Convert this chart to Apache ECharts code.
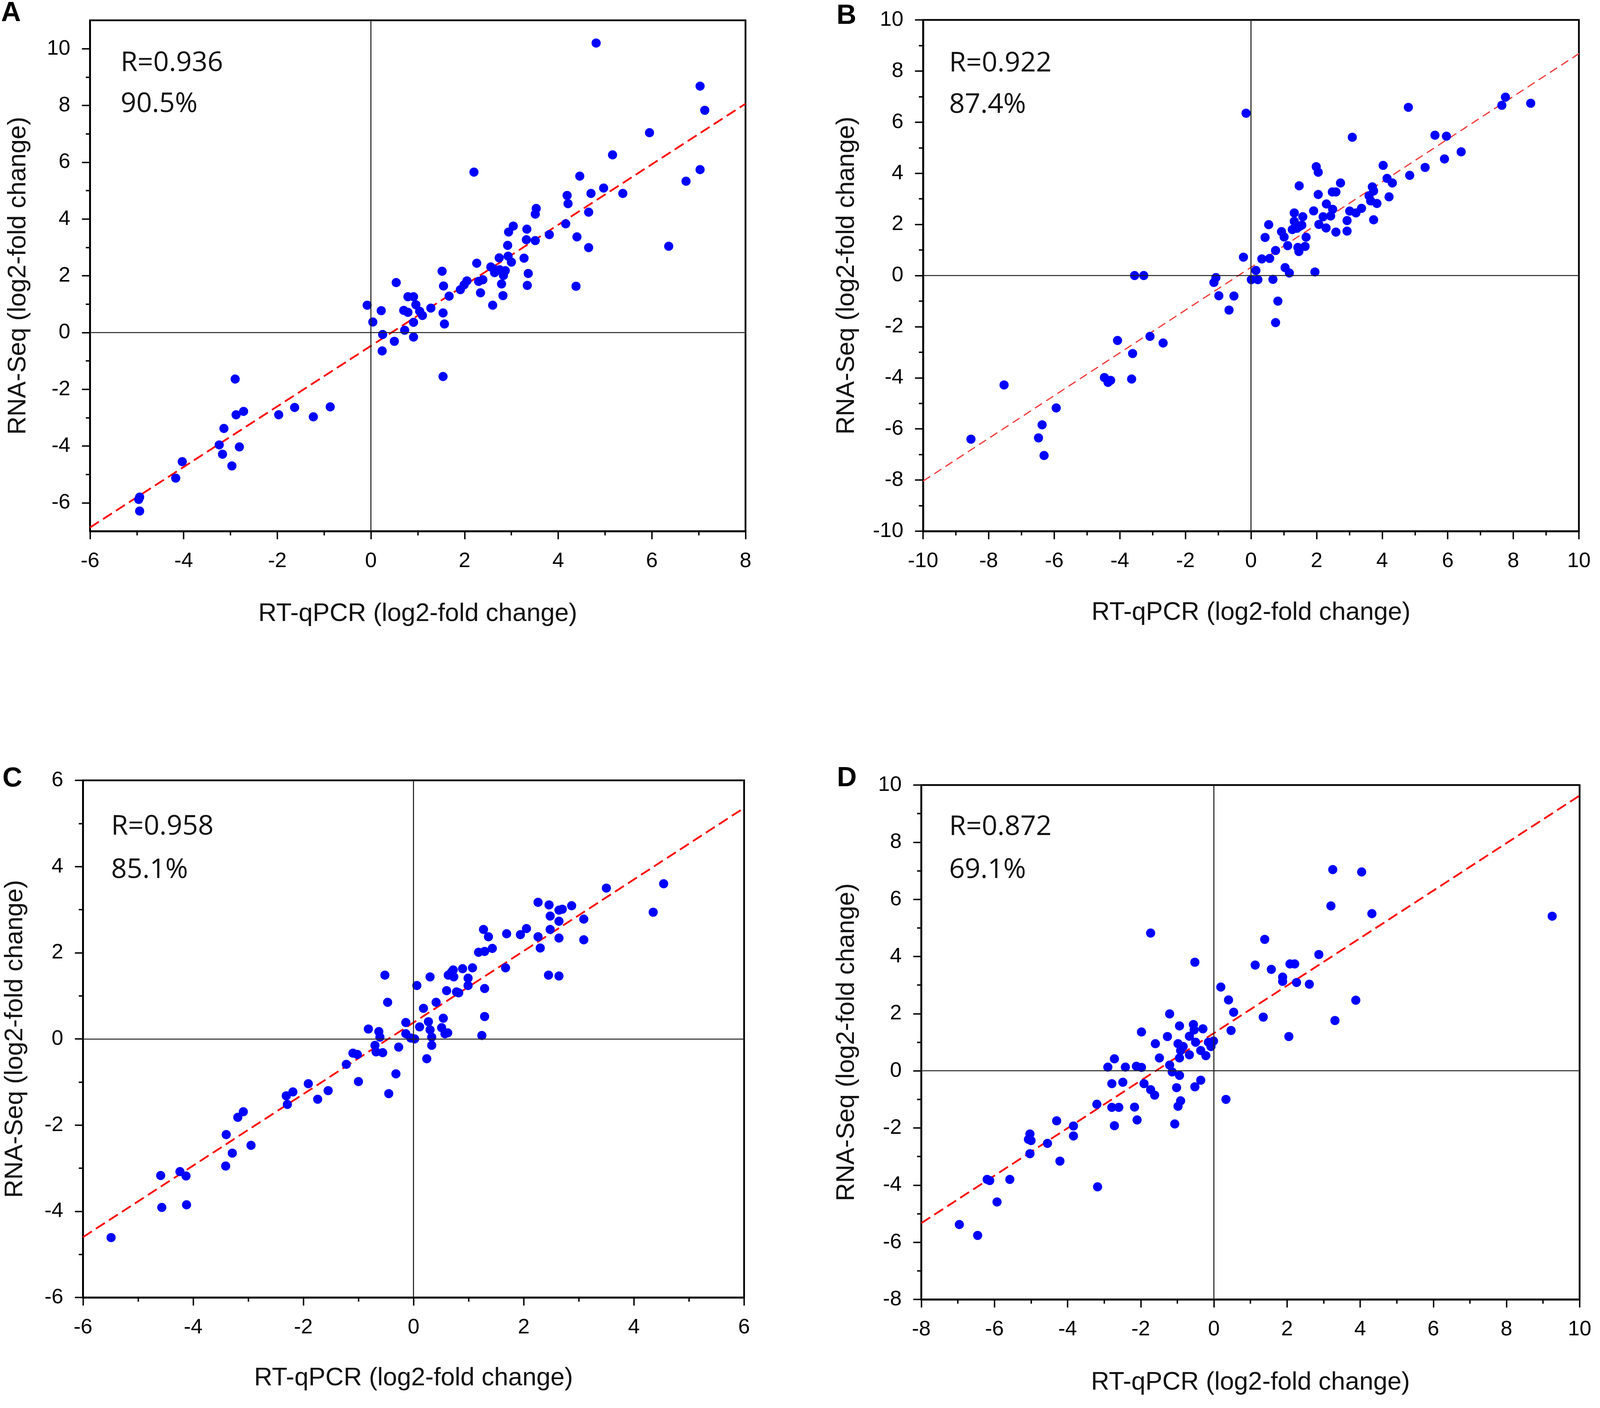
<!DOCTYPE html>
<html>
<head>
<meta charset="utf-8">
<title>RT-qPCR vs RNA-Seq</title>
<script src="https://cdn.jsdelivr.net/npm/echarts@6.0.0/dist/echarts.min.js"></script>
<style>
  html, body { margin: 0; padding: 0; background: #fff; overflow: hidden; }
  #main { width: 100vw; height: 100vh; }
</style>
</head>
<body>
<div id="main"></div>
<script>
// points: [RT-qPCR, RNA-Seq]
var ptsA = [
    [4.81, 10.2], [7.03, 8.68], [7.13, 7.83], [5.95, 7.04], [5.16, 6.26], [2.20, 5.65], [4.46, 5.51],
    [7.03, 5.74], [6.73, 5.33], [4.19, 4.83], [4.70, 4.90], [4.97, 5.09], [5.38, 4.90], [6.36, 3.04],
    [4.21, 4.54], [3.53, 4.37], [3.51, 4.17], [4.65, 4.24], [3.04, 3.75], [2.94, 3.54], [3.33, 3.64],
    [3.32, 3.27], [3.51, 3.24], [3.81, 3.45], [4.16, 3.83], [4.40, 3.37], [4.65, 2.99], [2.92, 3.07],
    [2.74, 2.63], [2.93, 2.69], [3.00, 2.48], [3.27, 2.62], [2.26, 2.44], [2.56, 2.31], [2.62, 2.24],
    [2.64, 2.11], [2.75, 2.21], [2.87, 2.18], [2.83, 2.01], [2.79, 1.71], [3.36, 2.08], [3.34, 1.66],
    [2.82, 1.30], [2.60, 0.96], [2.34, 1.40], [2.30, 1.80], [2.39, 1.86], [2.05, 1.82], [1.99, 1.68],
    [1.91, 1.51], [1.67, 1.28], [1.52, 2.16], [1.55, 1.64], [1.54, 0.69], [1.57, 0.30], [1.54, -1.55],
    [1.28, 0.86], [1.10, 0.60], [1.04, 0.75], [0.96, 0.98], [0.91, 1.26], [0.79, 1.26], [0.54, 1.76],
    [0.70, 0.78], [0.79, 0.71], [0.91, 0.36], [0.91, -0.16], [0.72, 0.08], [0.50, -0.31], [0.25, -0.07],
    [0.24, -0.65], [0.22, 0.77], [0.04, 0.37], [-0.08, 0.96], [4.38, 1.63],
    [-2.90, -1.64], [-2.88, -2.90], [-2.72, -2.78], [-3.14, -3.38], [-3.24, -3.96], [-3.17, -4.29],
    [-2.81, -4.03], [-2.97, -4.70], [-4.03, -4.55], [-4.17, -5.13], [-4.94, -5.80], [-4.96, -5.88],
    [-4.94, -6.29], [-1.97, -2.90], [-1.63, -2.64], [-1.23, -2.97], [-0.87, -2.62]
];
var ptsB = [
    [-0.15, 6.35], [4.80, 6.58], [7.76, 6.98], [7.65, 6.66], [8.53, 6.74],
    [3.09, 5.41], [5.61, 5.49], [5.96, 5.45], [6.41, 4.84], [5.90, 4.56], [5.31, 4.23], [4.84, 3.92],
    [4.03, 4.31], [4.15, 3.80], [4.31, 3.62], [4.21, 3.08], [3.70, 3.47], [3.74, 3.31], [3.60, 3.12],
    [3.65, 2.92], [3.84, 2.82], [3.74, 2.18], [3.37, 2.63], [3.20, 2.45], [3.01, 2.52], [2.93, 2.15],
    [2.93, 1.74], [2.73, 3.62], [2.59, 3.27], [2.48, 3.27], [1.99, 4.26], [2.05, 4.04], [1.47, 3.51],
    [2.05, 3.17], [2.30, 2.80], [2.49, 2.59], [2.43, 2.33], [2.20, 2.30], [1.91, 2.53], [2.07, 2.00],
    [2.29, 1.86], [2.59, 1.70], [1.95, 0.14], [1.32, 2.45], [1.32, 2.12], [1.26, 1.80], [1.58, 2.30],
    [1.48, 1.92], [1.55, 1.97], [1.40, 1.85], [1.68, 1.50], [1.65, 1.14], [1.46, 0.94], [1.43, 1.10],
    [1.12, 1.17], [0.93, 1.72], [1.01, 1.51], [0.54, 1.99], [0.43, 1.49], [0.75, 0.98], [0.57, 0.67],
    [0.33, 0.65], [-0.23, 0.72], [0.15, 0.20], [0.01, -0.16], [0.21, -0.16], [0.67, -0.15], [1.04, 0.31],
    [1.17, 0.10], [0.82, -1.00], [0.75, -1.84], [-0.52, -0.80], [-0.67, -1.35], [-0.98, -0.79],
    [-1.07, -0.08], [-1.13, -0.27],
    [-3.55, 0.00], [-3.27, 0.00], [-4.07, -2.54], [-3.08, -2.38], [-2.68, -2.64], [-3.61, -3.05],
    [-3.64, -4.05], [-4.47, -3.99], [-4.36, -4.18], [-4.28, -4.10], [-7.53, -4.28], [-5.94, -5.18],
    [-6.37, -5.84], [-6.48, -6.35], [-6.31, -7.04], [-8.54, -6.40]
];
var ptsC = [
    [-5.49, -4.61], [-4.59, -3.17], [-4.57, -3.91], [-4.24, -3.08], [-4.13, -3.18], [-4.12, -3.85],
    [-3.41, -2.95], [-3.40, -2.22], [-3.29, -2.65], [-3.19, -1.82], [-3.09, -1.69], [-2.95, -2.47],
    [-2.31, -1.32], [-2.29, -1.52], [-2.19, -1.23], [-1.91, -1.04], [-1.74, -1.40], [-1.55, -1.20],
    [-1.22, -0.59], [-1.10, -0.33], [-1.02, -0.36], [-1.00, -0.99], [-0.82, 0.23], [-0.70, -0.15],
    [-0.68, -0.30], [-0.63, 0.17], [-0.61, 0.04], [-0.56, -0.32], [-0.52, 1.48], [-0.47, 0.85],
    [-0.45, -1.27], [-0.32, -0.81], [-0.27, -0.19], [-0.14, 0.38], [-0.14, 0.12], [-0.05, 0.02],
    [0.02, 0.00], [0.06, 1.24], [0.11, 0.28], [0.18, 0.71], [0.24, -0.46], [0.27, 0.40], [0.30, 1.44],
    [0.30, 0.21], [0.33, -0.15], [0.33, 0.04], [0.41, 0.85], [0.51, 0.26], [0.54, 0.48], [0.57, 0.12],
    [0.62, 0.14], [0.60, 1.12], [0.63, 1.48], [0.69, 1.55], [0.72, 1.60], [0.73, 1.44], [0.78, 1.09],
    [0.89, 1.63], [0.82, 1.07], [0.99, 1.41], [0.99, 1.24], [1.07, 1.65], [1.18, 2.01], [1.29, 2.03],
    [1.27, 2.54], [1.36, 2.37], [1.43, 2.10], [1.29, 1.17], [1.29, 0.52], [1.24, 0.08], [1.69, 2.44],
    [1.67, 1.65], [1.94, 2.42], [2.05, 2.56], [2.26, 3.17], [2.26, 2.37], [2.30, 2.11], [2.46, 3.11],
    [2.48, 2.85], [2.48, 2.54], [2.45, 1.48], [2.64, 2.99], [2.70, 3.01], [2.64, 2.73], [2.64, 2.34],
    [2.64, 1.46], [2.87, 3.09], [3.09, 2.78], [3.09, 2.30], [3.50, 3.50], [4.35, 2.94], [4.54, 3.60]
];
var ptsD = [
    [3.25, 7.04], [4.04, 6.96], [3.20, 5.77], [4.32, 5.50], [9.25, 5.41], [-1.73, 4.82], [1.39, 4.60],
    [-0.52, 3.80], [2.87, 4.07], [1.13, 3.70], [1.57, 3.55], [2.08, 3.74], [2.21, 3.74], [1.88, 3.28],
    [1.88, 3.13], [2.26, 3.09], [2.61, 3.03], [0.19, 2.93], [0.40, 2.48], [0.54, 2.05], [3.88, 2.47],
    [3.31, 1.76], [1.35, 1.88], [2.05, 1.20], [0.47, 1.41], [-1.21, 1.99], [-1.98, 1.36], [-1.27, 1.20],
    [-0.94, 1.57], [-0.56, 1.62], [-0.54, 1.43], [-0.30, 1.47], [-0.67, 1.21], [-1.60, 0.95],
    [-0.98, 0.95], [-0.84, 0.85], [-0.50, 1.00], [-0.15, 1.00], [-0.01, 1.04], [-0.08, 0.85],
    [-0.36, 0.71], [-0.67, 0.56], [-0.91, 0.71], [-0.94, 0.45], [-0.22, 0.53], [-1.49, 0.45],
    [-2.72, 0.42], [-2.90, 0.13], [-2.42, 0.13], [-2.12, 0.16], [-1.98, 0.12], [-1.21, 0.20],
    [-1.14, -0.04], [-0.94, -0.16], [-2.79, -0.45], [-2.49, -0.40], [-1.91, -0.45], [-1.73, -0.66],
    [-1.62, -0.85], [-1.02, -0.59], [-0.52, -0.56], [-0.36, -0.33], [0.33, -1.00], [-3.20, -1.17],
    [-2.79, -1.28], [-2.60, -1.28], [-2.17, -1.27], [-2.10, -1.72], [-2.72, -1.92], [-0.91, -1.05],
    [-0.98, -1.24], [-1.07, -1.86], [-4.30, -1.75], [-3.84, -1.93], [-3.84, -2.28], [-5.03, -2.21],
    [-5.07, -2.40], [-5.00, -2.44], [-4.55, -2.54], [-5.03, -2.90], [-4.21, -3.16], [-3.18, -4.06],
    [-6.20, -3.80], [-6.13, -3.84], [-5.58, -3.80], [-5.93, -4.59], [-6.96, -5.38], [-6.46, -5.76]
];

// end points of the dashed fit lines
var fitA = [[-6, -6.87], [8, 8.06]];
var fitB = [[-10, -8.04], [10, 8.68]];
var fitC = [[-6, -4.60], [6, 5.36]];
var fitD = [[-8, -5.33], [10, 9.63]];

var statR = ['R=0.936', 'R=0.922', 'R=0.958', 'R=0.872'];
var statPct = ['90.5%', '87.4%', '85.1%', '69.1%'];
var panelNames = ['A', 'B', 'C', 'D'];

// panel A y axis runs -7..11, labels on the even values only
var ticksAy = [-6, -4, -2, 0, 2, 4, 6, 8, 10];
var minorAy = [-5, -3, -1, 1, 3, 5, 7, 9];

var xTitle = 'RT-qPCR (log2-fold change)';
var yTitle = 'RNA-Seq (log2-fold change)';

// layout was measured on a 4550x3605 page, scale it to whatever we get
var W = window.innerWidth || 4550;
var H = window.innerHeight || 3605;
var sx = W / 4550, sy = H / 3605, sf = Math.min(sx, sy);
function px(v) { return v * sx; }
function py(v) { return v * sy; }
function fs(v) { return v * sf; }

var myChart = echarts.init(document.getElementById('main'), null, {renderer: 'canvas', width: W, height: H});

function valueAxis(gridIndex, min, max, name, nameGap, isY) {
    return {
        type: 'value',
        gridIndex: gridIndex,
        min: min,
        max: max,
        interval: 2,
        position: isY ? 'left' : 'bottom',
        name: name,
        nameLocation: 'middle',
        nameGap: isY ? px(nameGap) : py(nameGap),
        nameRotate: isY ? 90 : 0,
        nameTextStyle: {fontSize: fs(72), color: '#111', fontFamily: 'Liberation Sans, Arial, sans-serif'},
        axisLine: {show: true, onZero: false, lineStyle: {color: '#000', width: fs(5)}},
        axisTick: {show: true, inside: false, length: fs(23), lineStyle: {color: '#000', width: fs(4)}},
        minorTick: {show: true, splitNumber: 2, length: fs(12), lineStyle: {color: '#000', width: fs(4)}},
        axisLabel: {
            fontSize: fs(60), color: '#000', margin: fs(56),
            fontFamily: 'Liberation Sans, Arial, sans-serif',
            showMinLabel: true, showMaxLabel: true
        },
        splitLine: {show: false},
        minorSplitLine: {show: false}
    };
}

var xAxes = [
    valueAxis(0, -6, 8, xTitle, 180, false),
    valueAxis(1, -10, 10, xTitle, 177, false),
    valueAxis(2, -6, 6, xTitle, 175, false),
    valueAxis(3, -8, 10, xTitle, 181, false)
];

var yA = valueAxis(0, -7, 11, yTitle, 168, true);
delete yA.interval;
yA.axisTick.customValues = ticksAy;
yA.axisLabel.customValues = ticksAy;
yA.minorTick = {show: false};

// second axis on the same grid only for the short odd ticks of panel A
var yAminor = {
    type: 'value', gridIndex: 0, min: -7, max: 11, position: 'left',
    axisLine: {show: false, onZero: false},
    axisLabel: {show: false},
    axisTick: {show: true, inside: false, length: fs(12), customValues: minorAy,
        lineStyle: {color: '#000', width: fs(4)}},
    splitLine: {show: false}
};

var yAxes = [
    yA,
    valueAxis(1, -10, 10, yTitle, 181, true),
    valueAxis(2, -6, 6, yTitle, 156, true),
    valueAxis(3, -8, 10, yTitle, 175, true),
    yAminor
];

var gridBoxes = [
    [256, 52, 1864, 1308],
    [2625, 51, 1865, 1309],
    [236, 1998, 1880, 1324],
    [2620, 2010, 1872, 1317]
];
var grids = gridBoxes.map(function (b) {
    return {
        left: px(b[0]), top: py(b[1]), width: px(b[2]), height: py(b[3]),
        show: true, borderColor: '#000', borderWidth: fs(5),
        backgroundColor: '#fff', containLabel: false
    };
});

var allPts = [ptsA, ptsB, ptsC, ptsD];
var allFits = [fitA, fitB, fitC, fitD];

var series = [];
allPts.forEach(function (pts, i) {
    series.push({
        type: 'line',
        xAxisIndex: i,
        yAxisIndex: i,
        data: allFits[i],
        symbol: 'none',
        z: 2,
        lineStyle: {
            color: i === 1 ? '#f23b3b' : '#ff0000',
            width: fs(i === 1 ? 3.5 : 5),
            type: i === 1 ? [fs(24), fs(14)] : [fs(30), fs(14)]
        },
        markLine: {
            silent: true,
            symbol: ['none', 'none'],
            label: {show: false},
            lineStyle: {type: 'solid', color: '#222', width: fs(3)},
            data: [{xAxis: 0}, {yAxis: 0}]
        }
    });
    series.push({
        type: 'scatter',
        xAxisIndex: i,
        yAxisIndex: i,
        data: pts,
        symbol: 'circle',
        symbolSize: fs(26),
        z: 3,
        itemStyle: {color: '#0000ff', opacity: 1}
    });
});

// panel letters and the R / percentage notes
var letterPos = [[3, 35], [2379, 42], [7, 1995], [2380, 1994]];
var notePos = [[343, 162, 267], [2699, 163, 269], [316, 2117, 2228], [2699, 2118, 2228]];
var graphics = [];
panelNames.forEach(function (name, i) {
    graphics.push({
        type: 'text',
        style: {
            x: px(letterPos[i][0]), y: py(letterPos[i][1]), text: name,
            font: 'bold ' + fs(78) + 'px "Liberation Sans", Arial, sans-serif', fill: '#000',
            textAlign: 'left', textVerticalAlign: 'middle', align: 'left', verticalAlign: 'middle'
        }
    });
    graphics.push({
        type: 'text',
        style: {
            x: px(notePos[i][0]), y: py(notePos[i][1]), text: statR[i],
            font: fs(78) + 'px "Open Sans", "Noto Sans", sans-serif', fill: '#111',
            textAlign: 'left', textVerticalAlign: 'middle', align: 'left', verticalAlign: 'middle'
        }
    });
    graphics.push({
        type: 'text',
        style: {
            x: px(notePos[i][0]), y: py(notePos[i][2]), text: statPct[i],
            font: fs(78) + 'px "Open Sans", "Noto Sans", sans-serif', fill: '#111',
            textAlign: 'left', textVerticalAlign: 'middle', align: 'left', verticalAlign: 'middle'
        }
    });
});

var option = {
    backgroundColor: '#fff',
    animation: false,
    textStyle: {fontFamily: 'Liberation Sans, Arial, sans-serif'},
    grid: grids,
    xAxis: xAxes,
    yAxis: yAxes,
    series: series,
    graphic: graphics
};

myChart.setOption(option);
</script>
</body>
</html>
